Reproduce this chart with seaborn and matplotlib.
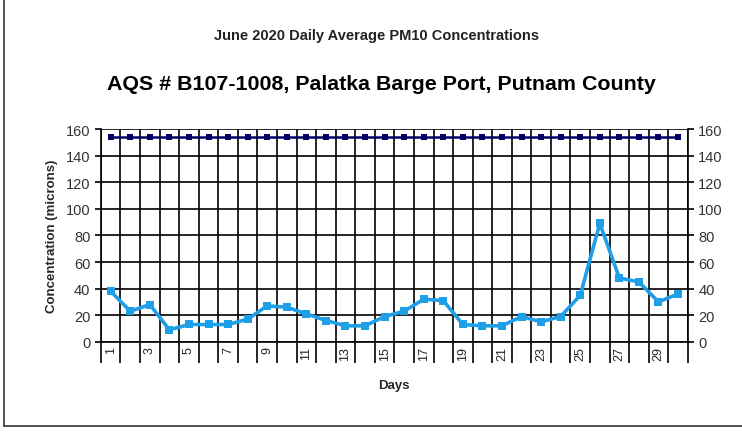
import matplotlib
matplotlib.use("Agg")
import matplotlib.pyplot as plt
from matplotlib.ticker import FixedLocator, NullFormatter
import pandas as pd
import seaborn as sns

sns.set_theme(style="white")
plt.rcParams['font.family'] = ['Liberation Sans', 'DejaVu Sans']

# daily values
days = list(range(1, 31))
pm10 = [38, 23, 28, 9, 13, 13, 13, 17, 27, 26, 21, 16, 12, 12, 19,
        23, 32, 31, 13, 12, 12, 19, 15, 19, 35, 89, 48, 45, 30, 36]
standard = [154] * 30
y_ticks = [0, 20, 40, 60, 80, 100, 120, 140, 160]
x_labels = [str(d) for d in days if d % 2 == 1]

df = pd.DataFrame({'Day': days, 'PM10': pm10, 'Standard': standard})

fig = plt.figure(figsize=(7.42, 4.35), dpi=100)
ax = fig.add_axes([0.136, 0.212, 0.791, 0.489])

sns.lineplot(data=df, x='Day', y='Standard', ax=ax, color='#000066',
             linewidth=1.8, marker='s', markersize=5, markeredgewidth=0, zorder=4)
sns.lineplot(data=df, x='Day', y='PM10', ax=ax, color='#1E9FE8',
             linewidth=2.6, marker='s', markersize=5.5, markeredgewidth=0, zorder=5)

ax.set_xlim(0.5, 30.5)
ax.set_ylim(0, 160)
ax.set_yticks(y_ticks)
ax.set_yticklabels([str(v) for v in y_ticks])

# gridlines at category boundaries, labels at category centres
bounds = [d - 0.5 for d in days] + [30.5]
ax.xaxis.set_major_locator(FixedLocator(bounds))
ax.xaxis.set_major_formatter(NullFormatter())
ax.xaxis.set_minor_locator(FixedLocator([d for d in days if d % 2 == 1]))
ax.set_xticklabels(x_labels, minor=True, rotation=90, fontsize=9)
ax.tick_params(axis='x', which='major', direction='out', length=15,
               width=1.2, color='black', bottom=True)
ax.tick_params(axis='x', which='minor', length=0, pad=3, colors='#222222')
ax.tick_params(axis='y', direction='out', length=4, width=1.2,
               left=True, labelsize=10.5, labelcolor='#333333', color='black')

ax.grid(True, which='major', color='black', linewidth=1.2)
for s in ['top', 'right']:
    ax.spines[s].set_visible(False)
for s in ['left', 'bottom']:
    ax.spines[s].set_color('black')
    ax.spines[s].set_linewidth(1.2)

ax2 = ax.twinx()
ax2.set_ylim(0, 160)
ax2.set_yticks(y_ticks)
ax2.set_yticklabels([str(v) for v in y_ticks])
ax2.tick_params(axis='y', direction='out', length=4, width=1.2,
                right=True, labelsize=10.5, labelcolor='#333333', color='black')
for s in ['top', 'left', 'bottom']:
    ax2.spines[s].set_visible(False)
ax2.spines['right'].set_color('black')
ax2.spines['right'].set_linewidth(1.2)
ax2.set_ylabel('')

ax.set_xlabel('Days', fontsize=9.5, fontweight='bold', labelpad=8)
ax.set_ylabel('Concentration (microns)', fontsize=9.5, fontweight='bold', labelpad=6)

fig.text(0.508, 0.917, 'June 2020 Daily Average PM10 Concentrations',
         ha='center', va='center', fontsize=10.5, fontweight='bold', color='#222222')
fig.text(0.514, 0.805, 'AQS # B107-1008, Palatka Barge Port, Putnam County',
         ha='center', va='center', fontsize=15.4, fontweight='bold', color='black')

# outer frame (left and bottom edges visible)
fig.add_artist(plt.Line2D([0.005, 0.005], [0.018, 1.0], color='#333333', linewidth=1.2))
fig.add_artist(plt.Line2D([0.005, 1.0], [0.018, 0.018], color='#333333', linewidth=1.2))

fig.savefig('out.png', dpi=100)
